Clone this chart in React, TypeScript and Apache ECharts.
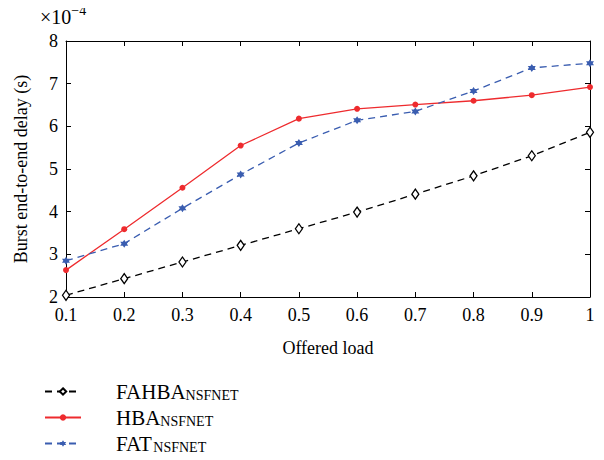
import React, { useEffect, useRef } from "react";
import * as echarts from "echarts";

const loads = ["0.1", "0.2", "0.3", "0.4", "0.5", "0.6", "0.7", "0.8", "0.9", "1"];
const fahba = [2.04, 2.43, 2.82, 3.21, 3.6, 3.99, 4.41, 4.84, 5.31, 5.86];
const hba = [2.63, 3.59, 4.56, 5.55, 6.18, 6.41, 6.51, 6.6, 6.73, 6.92];
const fat = [2.85, 3.25, 4.08, 4.87, 5.61, 6.14, 6.35, 6.83, 7.37, 7.48];
const seriesNames = ["FAHBA", "HBA", "FAT"];
const yTicks = [2, 3, 4, 5, 6, 7, 8];

const FONT = "Liberation Serif";
const STAR =
  "path://M0,-10L2.9,-5L8.7,-5L5.8,0L8.7,5L2.9,5L0,10L-2.9,5L-8.7,5L-5.8,0L-8.7,-5L-2.9,-5Z";

export default function App() {
  const ref = useRef<HTMLDivElement>(null);
  useEffect(() => {
    if (!ref.current) return;
    const chart = echarts.init(ref.current, undefined, { renderer: "svg" });
    const axisLine = { show: true, lineStyle: { color: "#000", width: 1 } };
    const tick = { show: true, inside: true, length: 5, lineStyle: { color: "#000" } };
    chart.setOption({
      animation: false,
      backgroundColor: "#fff",
      grid: { left: 66, right: 14, top: 41, bottom: 163 },
      xAxis: [
        {
          type: "category",
          data: loads,
          boundaryGap: false,
          axisLine,
          axisTick: tick,
          axisLabel: { color: "#000", fontFamily: FONT, fontSize: 18, margin: 9 },
          name: "Offered load",
          nameLocation: "middle",
          nameGap: 42,
          nameTextStyle: { color: "#000", fontFamily: FONT, fontSize: 18 },
        },
        {
          type: "category",
          data: loads,
          boundaryGap: false,
          position: "top",
          axisLine,
          axisTick: tick,
          axisLabel: { show: false },
        },
      ],
      yAxis: [
        {
          type: "value",
          min: yTicks[0],
          max: yTicks[yTicks.length - 1],
          interval: 1,
          axisLine,
          axisTick: tick,
          splitLine: { show: false },
          axisLabel: { color: "#000", fontFamily: FONT, fontSize: 18, margin: 8 },
          name: "Burst end-to-end delay (s)",
          nameLocation: "middle",
          nameGap: 36,
          nameTextStyle: { color: "#000", fontFamily: FONT, fontSize: 18 },
        },
        {
          type: "value",
          min: yTicks[0],
          max: yTicks[yTicks.length - 1],
          interval: 1,
          position: "right",
          axisLine,
          axisTick: tick,
          splitLine: { show: false },
          axisLabel: { show: false },
        },
      ],
      legend: {
        orient: "vertical",
        left: 44,
        top: 381,
        padding: 0,
        itemWidth: 36,
        itemHeight: 8,
        itemGap: 5,
        data: seriesNames,
        formatter: (name: string) =>
          name === "FAT" ? `{a|${name}}{g| }{b|NSFNET}` : `{a|${name}}{b|NSFNET}`,
        textStyle: {
          color: "#000",
          fontFamily: FONT,
          rich: {
            a: { fontSize: 21, lineHeight: 21, fontFamily: FONT, color: "#000", padding: [0, 0, 0, 30] },
            b: { fontSize: 14, lineHeight: 14, fontFamily: FONT, color: "#000", padding: [7, 0, 0, 0] },
            g: { fontSize: 6 },
          },
        },
      },
      graphic: [
        {
          type: "text",
          left: 40,
          top: 3,
          style: {
            text: "{a|×10}{b|−4}",
            rich: {
              a: { fontSize: 20, fontFamily: FONT, fill: "#000", padding: [6, 0, 0, 0] },
              b: { fontSize: 14, fontFamily: FONT, fill: "#000", padding: [0, 0, 8, 0] },
            },
          },
        },
      ],
      series: [
        {
          name: seriesNames[0],
          type: "line",
          data: fahba,
          symbol: "diamond",
          symbolSize: [7, 10],
          color: "#000",
          itemStyle: { color: "#fff", borderColor: "#000", borderWidth: 1.3 },
          lineStyle: { color: "#000", width: 1.3, type: [7, 5] },
        },
        {
          name: seriesNames[1],
          type: "line",
          data: hba,
          symbol: "circle",
          symbolSize: 6,
          color: "#ee2b2e",
          itemStyle: { color: "#ee2b2e" },
          lineStyle: { color: "#ee2b2e", width: 1.3 },
        },
        {
          name: seriesNames[2],
          type: "line",
          data: fat,
          symbol: STAR,
          symbolSize: 8,
          color: "#3a5db0",
          itemStyle: { color: "#3a5db0" },
          lineStyle: { color: "#3a5db0", width: 1.3, type: [7, 5] },
        },
      ],
    });
    return () => chart.dispose();
  }, []);
  return <div ref={ref} style={{ width: 604, height: 460, margin: -8 }} />;
}
